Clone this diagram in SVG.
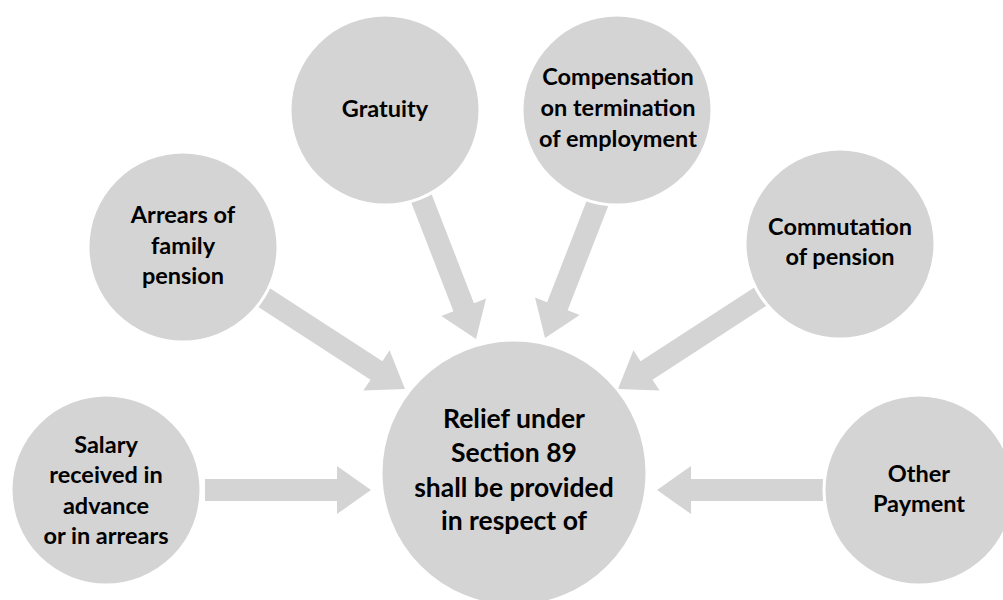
<svg xmlns="http://www.w3.org/2000/svg" width="1003" height="600" viewBox="0 0 1003 600">
  <defs>
    <polygon id="arrowShape" points="-170,-11 -34,-11 -34,-24 0,0 -34,24 -34,11 -170,11"/>
    <polygon id="arrowShort" points="-166,-11 -34,-11 -34,-24 0,0 -34,24 -34,11 -166,11"/>
  </defs>
  <style>
    .bg { fill: #ffffff; }
    .arrow { fill: #d4d4d4; }
    .node circle { fill: #d4d4d4; stroke: #ffffff; stroke-width: 3; }
    .node text { font-family: Lato, "Liberation Sans", sans-serif; font-weight: bold; font-size: 23.5px; fill: #000000; text-anchor: middle; }
    #center text { font-size: 26.5px; }
  </style>
  <rect class="bg" x="0" y="0" width="1003" height="600"/>
  <g id="connectors">
    <use href="#arrowShape" class="arrow" transform="translate(476,339) rotate(68.8)"/>
    <use href="#arrowShape" class="arrow" transform="translate(545,338) rotate(111.3)"/>
    <use href="#arrowShape" class="arrow" transform="translate(405,389) rotate(33)"/>
    <use href="#arrowShape" class="arrow" transform="translate(618,389) rotate(147)"/>
    <use href="#arrowShort" class="arrow" transform="translate(371,490)"/>
    <use href="#arrowShort" class="arrow" transform="translate(657,490) rotate(180)"/>
  </g>
  <g id="gratuity" class="node">
    <circle cx="385" cy="110" r="95"/>
    <text x="385" y="116.5">Gratuity</text>
  </g>
  <g id="compensation" class="node">
    <circle cx="617" cy="110" r="95"/>
    <text x="618" y="85">Compensation</text>
    <text x="618" y="116">on termination</text>
    <text x="618" y="147">of employment</text>
  </g>
  <g id="arrears" class="node">
    <circle cx="183" cy="247" r="95"/>
    <text x="183" y="223">Arrears of</text>
    <text x="183" y="254">family</text>
    <text x="183" y="284">pension</text>
  </g>
  <g id="commutation" class="node">
    <circle cx="840" cy="244" r="95"/>
    <text x="840" y="235">Commutation</text>
    <text x="840" y="265">of pension</text>
  </g>
  <g id="salary" class="node">
    <circle cx="106" cy="490" r="95"/>
    <text x="106" y="453">Salary</text>
    <text x="106" y="483">received in</text>
    <text x="106" y="514">advance</text>
    <text x="106" y="544">or in arrears</text>
  </g>
  <g id="other" class="node">
    <circle cx="919" cy="490" r="95"/>
    <text x="919" y="482">Other</text>
    <text x="919" y="512">Payment</text>
  </g>
  <g id="center" class="node">
    <circle cx="514" cy="473" r="133"/>
    <text x="514" y="428">Relief under</text>
    <text x="514" y="462">Section 89</text>
    <text x="514" y="497">shall be provided</text>
    <text x="514" y="530">in respect of</text>
  </g>
</svg>
